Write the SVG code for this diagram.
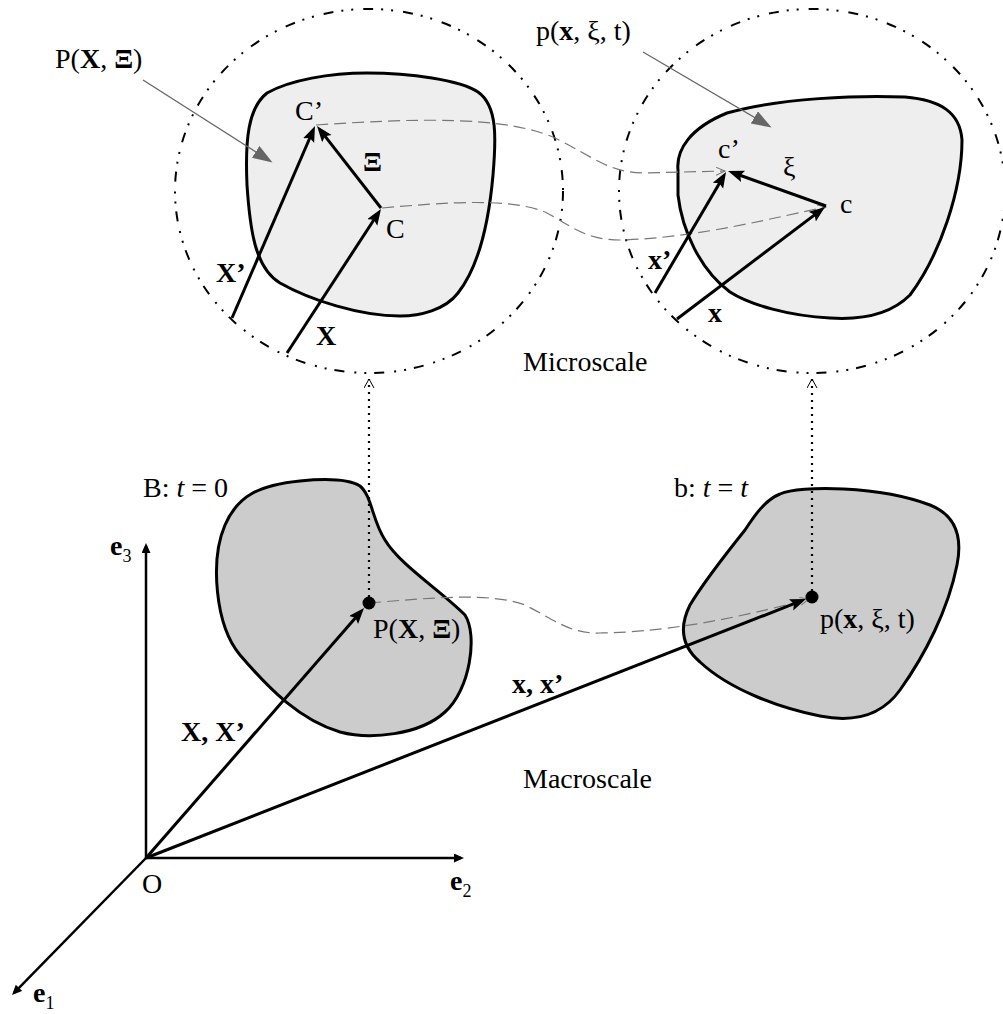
<svg xmlns="http://www.w3.org/2000/svg" width="1003" height="1014" viewBox="0 0 1003 1014">
<defs>
<style>
text{font-family:"Liberation Serif","Times New Roman",serif;font-size:28px;fill:#000}
.b{font-weight:bold}
.i{font-style:italic}
.sub{font-size:18px}
.ring{fill:none;stroke:#000;stroke-width:2;stroke-dasharray:10 8 2 8 2 10}
.micro{fill:#eeeeee;stroke:#000;stroke-width:3}
.macro{fill:#cccccc;stroke:#000;stroke-width:3}
.vec{fill:none;stroke:#000;stroke-width:3;marker-end:url(#ah)}
.axis{fill:none;stroke:#000;stroke-width:2.5;marker-end:url(#ax)}
.lead{fill:none;stroke:#666;stroke-width:1.3;marker-end:url(#gl)}
.path{fill:none;stroke:#777;stroke-width:1.2;stroke-dasharray:12 6;marker-end:url(#go)}
.dot{fill:none;stroke:#000;stroke-width:2.2;stroke-dasharray:2 5;marker-end:url(#oa)}
</style>
<marker id="ah" markerUnits="userSpaceOnUse" markerWidth="18" markerHeight="14" refX="10" refY="6" orient="auto"><path d="M0,0 L16,6 L0,12 L3,6 Z" fill="#000"/></marker>
<marker id="ax" markerUnits="userSpaceOnUse" markerWidth="12" markerHeight="10" refX="7" refY="4.5" orient="auto"><path d="M0,0 L10,4.5 L0,9 Z" fill="#000"/></marker>
<marker id="gl" markerUnits="userSpaceOnUse" markerWidth="22" markerHeight="16" refX="17" refY="7" orient="auto"><path d="M0,0 L20,7 L0,14 Z" fill="#666"/></marker>
<marker id="go" markerUnits="userSpaceOnUse" markerWidth="12" markerHeight="10" refX="9" refY="4" orient="auto"><path d="M0,0 L9,4 L0,8" fill="none" stroke="#777" stroke-width="1"/></marker>
<marker id="oa" markerUnits="userSpaceOnUse" markerWidth="12" markerHeight="12" refX="9" refY="5" orient="auto"><path d="M0,0 L9,5 L0,10" fill="none" stroke="#000" stroke-width="1"/></marker>
</defs>
<g id="micro-left">
<ellipse class="ring" cx="369" cy="191" rx="194" ry="182"/>
<path class="micro" d="M 267,93 C 290,80 330,73 367,73 C 410,73 460,80 478,92 C 498,106 496,140 493,175 C 489,220 480,265 458,293 C 445,310 420,316 400,316 C 360,316 310,300 280,283 C 255,268 250,230 247,185 C 245,140 248,108 267,93 Z"/>
</g>
<g id="micro-right">
<ellipse class="ring" cx="812" cy="191" rx="193" ry="182"/>
<path class="micro" d="M 678,170 C 676,150 690,128 727,113 C 780,98 860,95 905,97 C 940,100 960,112 962,140 C 962,190 940,255 910,295 C 890,315 860,320 830,318 C 790,316 750,305 730,292 C 700,270 682,230 678,195 Z"/>
</g>
<g id="body-B">
<path class="macro" d="M 360,486 C 372,496 372,520 385,540 C 400,565 440,590 465,615 C 478,635 470,690 445,712 C 420,735 370,740 340,732 C 300,720 270,690 240,655 C 215,625 210,560 225,525 C 238,495 260,485 300,481 C 330,478 350,480 360,486 Z"/>
</g>
<g id="body-b">
<path class="macro" d="M 780,494 C 800,485 880,486 930,505 C 958,516 962,540 957,565 C 948,610 925,655 900,690 C 880,718 850,722 820,716 C 780,708 730,690 700,662 C 680,645 680,625 690,605 C 705,580 725,555 745,530 C 755,515 765,500 780,494 Z"/>
</g>
<g id="connectors">
<path class="path" d="M316,125 C 420,118 505,116 555,138 C 595,158 610,173 645,173 L 725,171"/>
<path class="path" d="M382,208 C 450,202 510,198 545,212 C 570,225 585,240 620,240 C 700,238 780,216 826,207"/>
<path class="path" d="M369,603 C 430,598 490,592 525,605 C 555,620 570,634 600,633 C 680,632 760,612 809,599"/>
<line class="dot" x1="369" y1="597" x2="369" y2="379"/>
<line class="dot" x1="812" y1="591" x2="812" y2="379"/>
<line class="lead" x1="143" y1="80" x2="270" y2="161"/>
<line class="lead" x1="643" y1="52" x2="769" y2="126"/>
<line class="vec" x1="232" y1="318" x2="312.6" y2="131.5"/>
<line class="vec" x1="287" y1="353" x2="377.7" y2="214"/>
<line class="vec" x1="381" y1="208" x2="320.7" y2="130.7"/>
<line class="vec" x1="655" y1="293" x2="723" y2="177.2"/>
<line class="vec" x1="677" y1="319" x2="820.2" y2="210.6"/>
<line class="vec" x1="826" y1="206" x2="733.7" y2="173"/>
<line class="vec" x1="146" y1="858" x2="360.1" y2="612.5"/>
<line class="vec" x1="146" y1="858" x2="800.4" y2="601.2"/>
<line class="axis" x1="146" y1="859" x2="146" y2="546"/>
<line class="axis" x1="145" y1="858" x2="461" y2="858"/>
<line class="axis" x1="147" y1="857" x2="14.1" y2="992.9"/>
<circle cx="369" cy="603" r="6.5" fill="#000"/>
<circle cx="812" cy="597" r="6.5" fill="#000"/>
</g>
<g id="labels">
<text x="55" y="68">P(<tspan class="b">X</tspan>, <tspan class="b">Ξ</tspan>)</text>
<text x="536" y="40">p(<tspan class="b">x</tspan>, ξ, t)</text>
<text x="295" y="120">C’</text>
<text x="363" y="171" class="b">Ξ</text>
<text x="386" y="238">C</text>
<text x="216" y="282" class="b">X’</text>
<text x="316" y="345" class="b">X</text>
<text x="718" y="158">c’</text>
<text x="783" y="176">ξ</text>
<text x="840" y="213">c</text>
<text x="648" y="269" class="b">x’</text>
<text x="708" y="322" class="b">x</text>
<text x="523" y="371">Microscale</text>
<text x="143" y="497">B: <tspan class="i">t</tspan> = 0</text>
<text x="674" y="497">b: <tspan class="i">t</tspan> = <tspan class="i">t</tspan></text>
<text x="373" y="638">P(<tspan class="b">X</tspan>, <tspan class="b">Ξ</tspan>)</text>
<text x="820" y="628">p(<tspan class="b">x</tspan>, ξ, t)</text>
<text x="181" y="741" class="b">X, X’</text>
<text x="512" y="693" class="b">x, x’</text>
<text x="523" y="788">Macroscale</text>
<text x="142" y="893">O</text>
<text x="110" y="555"><tspan class="b">e</tspan><tspan class="sub" dy="7">3</tspan></text>
<text x="450" y="890"><tspan class="b">e</tspan><tspan class="sub" dy="7">2</tspan></text>
<text x="33" y="1002"><tspan class="b">e</tspan><tspan class="sub" dy="7">1</tspan></text>
</g>
</svg>
